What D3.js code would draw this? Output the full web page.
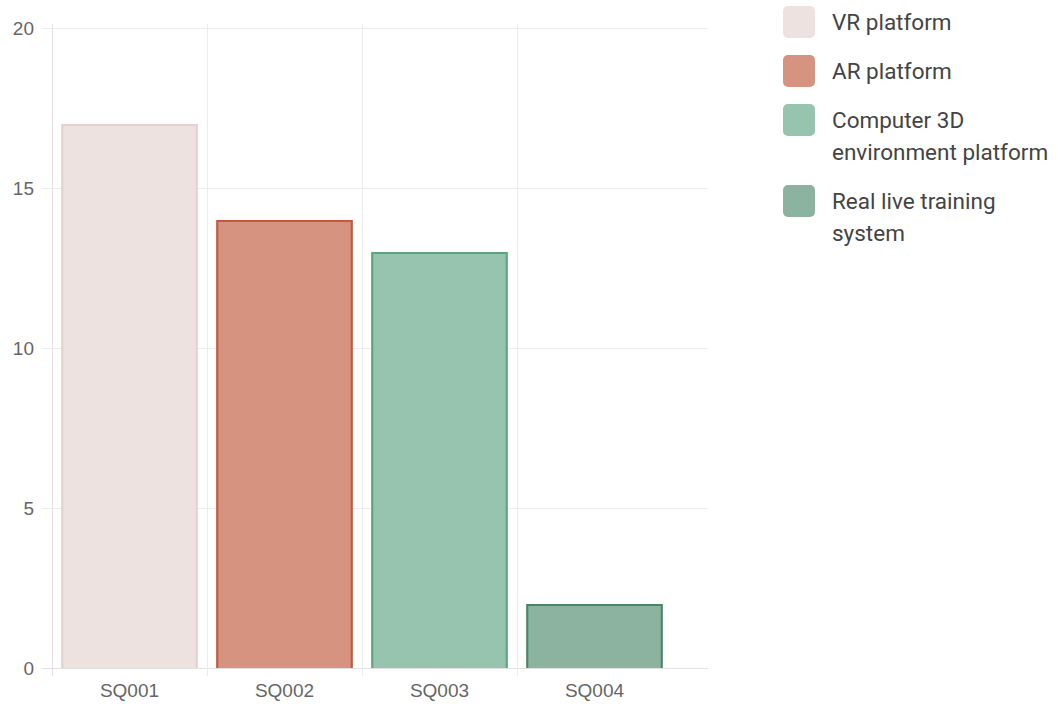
<!DOCTYPE html>
<html>
<head>
<meta charset="utf-8">
<script src="https://cdn.jsdelivr.net/npm/d3@7"></script>
<style>
  html, body { margin: 0; padding: 0; background: #fff; }
  svg { display: block; }
</style>
</head>
<body>
<svg id="chart" width="1058" height="704"></svg>
<script>
// Number of responses per training platform
const categories = ["SQ001", "SQ002", "SQ003", "SQ004"];
const seriesNames = ["VR platform", "AR platform", "Computer 3D environment platform", "Real live training system"];
const values = [17, 14, 13, 2];
const yTicks = [0, 5, 10, 15, 20];
const legendLines = [["VR platform"], ["AR platform"], ["Computer 3D", "environment platform"], ["Real live training", "system"]];
const fills = ["#eee2e1", "#d6937f", "#97c4af", "#8bb3a0"];
const borders = ["#e6cfcf", "#c4573c", "#5ba47f", "#4a8566"];

const svg = d3.select("#chart");
const plotLeft = 52, plotRight = 672, gridRight = 708, plotTop = 28, plotBottom = 668;

const x = d3.scaleBand().domain(categories).range([plotLeft, plotRight]).paddingInner(0).paddingOuter(0);
const y = d3.scaleLinear().domain([0, 20]).range([plotBottom, plotTop]);

// grid
const grid = svg.append("g");
grid.selectAll("line.h").data(yTicks).join("line")
  .attr("x1", plotLeft - 10).attr("x2", gridRight)
  .attr("y1", d => y(d) + 0.5).attr("y2", d => y(d) + 0.5)
  .attr("stroke", d => d === 0 ? "#e2e2e2" : "#ececec").attr("stroke-width", 1);
grid.selectAll("line.v").data(categories).join("line")
  .attr("x1", d => x(d) + 0.5).attr("x2", d => x(d) + 0.5)
  .attr("y1", plotTop - 4).attr("y2", plotBottom + 8)
  .attr("stroke", d => d === categories[0] ? "#e2e2e2" : "#ececec").attr("stroke-width", 1);

// y axis labels
svg.append("g").selectAll("text").data(yTicks).join("text")
  .attr("x", 34).attr("y", d => y(d)).attr("dy", "0.35em")
  .attr("text-anchor", "end")
  .attr("font-family", "Liberation Sans, Arial, sans-serif").attr("font-size", 19)
  .attr("fill", "#666").text(d => d);

// x axis labels
svg.append("g").selectAll("text").data(categories).join("text")
  .attr("x", d => x(d) + x.bandwidth() / 2).attr("y", plotBottom + 29)
  .attr("text-anchor", "middle")
  .attr("font-family", "Liberation Sans, Arial, sans-serif").attr("font-size", 19)
  .attr("fill", "#666").text(d => d);

// bars
const barW = x.bandwidth() * 0.88;
const bars = svg.append("g").selectAll("g").data(values).join("g");
bars.append("rect")
  .attr("x", (d, i) => x(categories[i]) + (x.bandwidth() - barW) / 2)
  .attr("y", d => y(d))
  .attr("width", barW)
  .attr("height", d => y(0) - y(d))
  .attr("fill", (d, i) => fills[i]);
bars.append("path")
  .attr("d", (d, i) => {
    const x0 = x(categories[i]) + (x.bandwidth() - barW) / 2 + 1;
    const x1 = x0 + barW - 2;
    const y0 = y(d) + 1;
    return `M${x0},${y(0)}V${y0}H${x1}V${y(0)}`;
  })
  .attr("fill", "none")
  .attr("stroke", (d, i) => borders[i]).attr("stroke-width", 2);

// legend
const rowY = [22, 71, 120, 201];
const legend = svg.append("g").selectAll("g").data(seriesNames).join("g")
  .attr("transform", (d, i) => `translate(783,${rowY[i]})`);
legend.append("rect")
  .attr("x", 0).attr("y", -16).attr("width", 32).attr("height", 32)
  .attr("rx", 5).attr("fill", (d, i) => fills[i]);
legend.each(function(d, i) {
  const t = d3.select(this).append("text")
    .attr("x", 49).attr("y", 0)
    .attr("font-family", "Roboto, sans-serif").attr("font-size", 22.5)
    .attr("fill", "#444");
  legendLines[i].forEach((line, j) => {
    t.append("tspan").attr("x", 49).attr("y", j * 32).attr("dy", "0.35em").text(line);
  });
});
</script>
</body>
</html>
